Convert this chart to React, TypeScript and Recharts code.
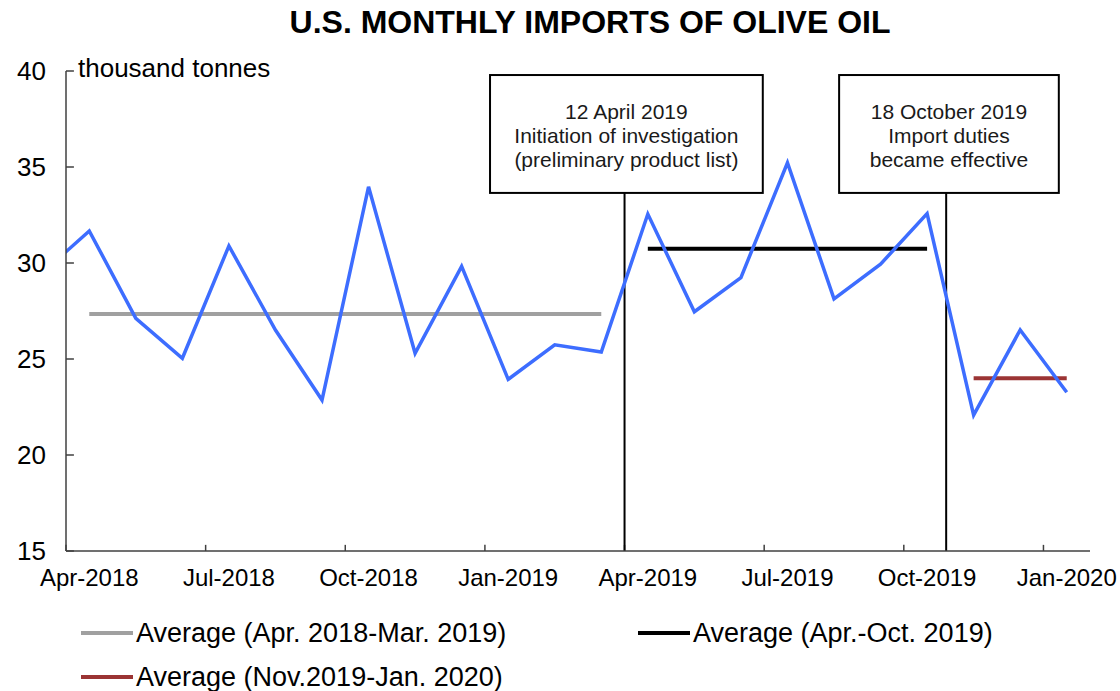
import React from 'react';
import { LineChart, Line, XAxis, YAxis, ReferenceLine, ReferenceArea } from 'recharts';

// monthly imports, thousand tonnes (Mar-2018 only feeds the clipped left edge)
const months = [
  'Mar-2018', 'Apr-2018', 'May-2018', 'Jun-2018', 'Jul-2018', 'Aug-2018', 'Sep-2018',
  'Oct-2018', 'Nov-2018', 'Dec-2018', 'Jan-2019', 'Feb-2019', 'Mar-2019', 'Apr-2019',
  'May-2019', 'Jun-2019', 'Jul-2019', 'Aug-2019', 'Sep-2019', 'Oct-2019', 'Nov-2019',
  'Dec-2019', 'Jan-2020',
];
const imports = [
  29.5, 31.67, 27.12, 25.04, 30.89, 26.51, 22.86, 33.97, 25.3, 29.82, 23.94, 25.74,
  25.36, 32.55, 27.46, 29.24, 35.22, 28.13, 29.94, 32.57, 22.08, 26.51, 23.27,
];

// quarter boundaries (tick marks) and their labels, which sit mid-month
const xTicks = [0, 3, 6, 9, 12, 15, 18, 21];
const tickLabels = ['Apr-2018', 'Jul-2018', 'Oct-2018', 'Jan-2019', 'Apr-2019', 'Jul-2019', 'Oct-2019', 'Jan-2020'];
const yTicks = [15, 20, 25, 30, 35, 40];

const avgNames = ['Average (Apr. 2018-Mar. 2019)', 'Average (Apr.-Oct. 2019)', 'Average (Nov.2019-Jan. 2020)'];
const avgValues = [27.34, 30.74, 24.0];
const avgFrom = ['Apr-2018', 'Apr-2019', 'Nov-2019'];
const avgTo = ['Mar-2019', 'Oct-2019', 'Jan-2020'];

const eventLines = [
  ['12 April 2019', 'Initiation of investigation', '(preliminary product list)'],
  ['18 October 2019', 'Import duties', 'became effective'],
];

const FONT = '"Liberation Sans", Arial, sans-serif';
const AXIS = '#404040';
const avgColors = ['#A0A0A0', '#000000', '#9B3434'];

// month -> x value (0 = Apr-2018 boundary, points sit mid-month)
const monthX = (m: string) => months.indexOf(m) - 0.5;

const chartData = months.map((m, i) => ({ x: monthX(m), v: imports[i] }));
const labelTicks = xTicks.map((t) => t + 0.5);

// event markers / annotation boxes
const eventX = [12, 18.91];
const boxX = [[9.11, 14.97], [16.61, 21.33]];
const BOX_BOTTOM = 33.65;
const BOX_TOP = 39.79;

const EventBox = (props: any) => {
  const { x, y, width, height, lines } = props;
  const cx = x + width / 2;
  return (
    <g>
      <rect x={x} y={y} width={width} height={height} fill="#fff" stroke="#000" strokeWidth={2} />
      {lines.map((t: string, i: number) => (
        <text key={i} x={cx} y={y + 44 + i * 24} textAnchor="middle" fontSize={21} fontFamily={FONT} fill="#1a1a1a">
          {t}
        </text>
      ))}
    </g>
  );
};

export default function App() {
  return (
    <div style={{ position: 'absolute', left: 0, top: 0, width: 1120, height: 691, background: '#fff' }}>
      <LineChart
        width={1120}
        height={600}
        data={chartData}
        margin={{ top: 71, right: 30, bottom: 9, left: 16 }}
      >
        <XAxis
          type="number"
          dataKey="x"
          domain={[0, 22]}
          allowDataOverflow
          ticks={labelTicks}
          tickFormatter={(v: number) => tickLabels[labelTicks.indexOf(v)]}
          tickLine={false}
          tickSize={0}
          tickMargin={18}
          height={40}
          stroke={AXIS}
          strokeWidth={1.5}
          interval={0}
          tick={{ fontSize: 24, fill: '#000', fontFamily: FONT }}
        />
        <YAxis
          type="number"
          domain={[15, 40]}
          ticks={yTicks}
          tickLine={false}
          tickSize={0}
          tickMargin={20}
          width={50}
          stroke={AXIS}
          strokeWidth={1.5}
          tick={{ fontSize: 26, fill: '#000', fontFamily: FONT }}
        />

        {xTicks.map((t) => (
          <ReferenceLine key={`xt${t}`} segment={[{ x: t, y: 15 }, { x: t, y: 15.32 }]} stroke={AXIS} strokeWidth={1.5} />
        ))}
        {yTicks.map((t) => (
          <ReferenceLine key={`yt${t}`} segment={[{ x: 0, y: t }, { x: 0.17, y: t }]} stroke={AXIS} strokeWidth={1.5} />
        ))}

        {avgValues.map((v, i) => (
          <ReferenceLine
            key={`avg${i}`}
            segment={[{ x: monthX(avgFrom[i]), y: v }, { x: monthX(avgTo[i]), y: v }]}
            stroke={avgColors[i]}
            strokeWidth={4}
          />
        ))}

        {eventX.map((ex, i) => (
          <ReferenceLine key={`ev${i}`} segment={[{ x: ex, y: 15 }, { x: ex, y: BOX_BOTTOM }]} stroke="#000" strokeWidth={2} />
        ))}
        {boxX.map((b, i) => (
          <ReferenceArea
            key={`box${i}`}
            x1={b[0]}
            x2={b[1]}
            y1={BOX_BOTTOM}
            y2={BOX_TOP}
            fill="#fff"
            fillOpacity={1}
            shape={(p: any) => <EventBox {...p} lines={eventLines[i]} />}
          />
        ))}

        <Line
          type="linear"
          dataKey="v"
          stroke="#3D6DFF"
          strokeWidth={3.5}
          strokeLinejoin="miter"
          dot={false}
          activeDot={false}
          isAnimationActive={false}
        />
      </LineChart>

      <svg width={1120} height={691} style={{ position: 'absolute', left: 0, top: 0, pointerEvents: 'none' }}>
        <text x={590} y={33} textAnchor="middle" fontSize={32} fontWeight="bold" fontFamily={FONT} fill="#000">
          U.S. MONTHLY IMPORTS OF OLIVE OIL
        </text>
        <text x={78} y={77} fontSize={26} fontFamily={FONT} fill="#000">
          thousand tonnes
        </text>
        {[
          { sx: 81, y: 633 },
          { sx: 638, y: 633 },
          { sx: 81, y: 677 },
        ].map((p, i) => (
          <g key={i}>
            <line x1={p.sx} x2={p.sx + 52} y1={p.y} y2={p.y} stroke={avgColors[i]} strokeWidth={4} />
            <text x={p.sx + 55} y={p.y + 9} fontSize={27} fontFamily={FONT} fill="#000">
              {avgNames[i]}
            </text>
          </g>
        ))}
      </svg>
    </div>
  );
}
